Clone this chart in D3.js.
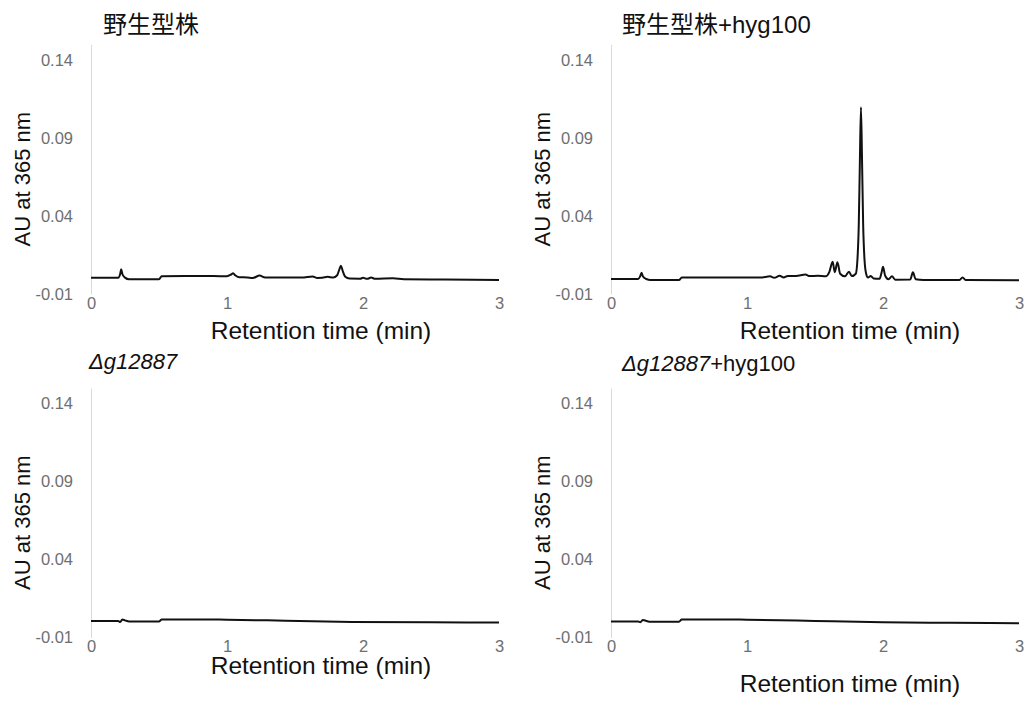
<!DOCTYPE html>
<html>
<head>
<meta charset="utf-8">
<script src="https://cdn.jsdelivr.net/npm/d3@7"></script>
<style>
  html, body { margin: 0; padding: 0; background: #fff; }
  svg { display: block; }
  text { font-family: "Liberation Sans", "Noto Sans CJK JP", sans-serif; }
</style>
</head>
<body>
<svg id="chart" width="1027" height="701"></svg>
<script>
// Axis ticks shared by all four chromatograms
const xTicks = [0, 1, 2, 3];
const yTicks = [-0.01, 0.04, 0.09, 0.14];
const yTickLabels = ["-0.01", "0.04", "0.09", "0.14"];
const xTitle = "Retention time (min)";
const yTitle = "AU at 365 nm";

// Wild type (retention time in min, absorbance in AU)
const wtTime = [0, 0.20, 0.215, 0.222, 0.232, 0.25, 0.28, 0.35, 0.50, 0.52, 0.7, 0.9, 1.0, 1.03, 1.045, 1.06, 1.09, 1.15, 1.19, 1.24, 1.28, 1.4, 1.55, 1.63, 1.66, 1.70, 1.74, 1.78, 1.81, 1.825, 1.838, 1.85, 1.87, 1.9, 1.98, 2.0, 2.03, 2.06, 2.09, 2.22, 2.3, 2.6, 3.0];
const wtAU   = [0.0004, 0.0004, 0.0030, 0.0058, 0.0025, 0.0005, -0.0006, -0.0006, -0.0006, 0.0014, 0.0015, 0.0015, 0.0014, 0.0025, 0.0033, 0.0020, 0.0008, 0.0006, 0.0003, 0.0018, 0.0006, 0.0005, 0.0005, 0.0012, 0.0003, 0.0004, 0.0010, 0.0005, 0.0020, 0.0055, 0.0081, 0.0050, 0.0010, -0.0001, -0.0002, 0.0004, -0.0003, 0.0005, -0.0003, 0.0001, -0.0005, -0.0007, -0.0010];

// Wild type + hyg100
const wtHygTime = [0, 0.20, 0.215, 0.225, 0.235, 0.26, 0.29, 0.50, 0.52, 0.8, 1.1, 1.17, 1.20, 1.24, 1.27, 1.30, 1.36, 1.43, 1.46, 1.52, 1.58, 1.605, 1.63, 1.645, 1.665, 1.685, 1.72, 1.75, 1.77, 1.80, 1.812, 1.822, 1.830, 1.838, 1.846, 1.854, 1.864, 1.876, 1.89, 1.91, 1.93, 1.975, 1.99, 2.0, 2.015, 2.04, 2.066, 2.09, 2.2, 2.22, 2.24, 2.3, 2.56, 2.585, 2.61, 3.0];
const wtHygAU   = [-0.0004, -0.0004, 0.0015, 0.0037, 0.0012, -0.0004, -0.0010, -0.0010, 0.0005, 0.0006, 0.0006, 0.0013, 0.0004, 0.0017, 0.0006, 0.0016, 0.0016, 0.0025, 0.0015, 0.0017, 0.0013, 0.0040, 0.0107, 0.0040, 0.0103, 0.0030, 0.0013, 0.0043, 0.0015, 0.0030, 0.0120, 0.0350, 0.0750, 0.1097, 0.0750, 0.0350, 0.0120, 0.0030, 0.0005, 0.0015, 0.0000, -0.0002, 0.0040, 0.0075, 0.0020, -0.0005, 0.0013, -0.0008, -0.0007, 0.0039, -0.0005, -0.0010, -0.0011, 0.0005, -0.0011, -0.0012];

// Δg12887
const koTime = [0, 0.20, 0.215, 0.23, 0.25, 0.28, 0.50, 0.52, 0.8, 1.0, 1.43, 1.92, 2.5, 3.0];
const koAU   = [0.0005, 0.0005, 0.0000, 0.0015, 0.0010, 0.0003, 0.0003, 0.0015, 0.0016, 0.0014, 0.0008, 0.0000, -0.0003, -0.0004];

// Δg12887 + hyg100
const koHygTime = [0, 0.20, 0.215, 0.235, 0.26, 0.29, 0.50, 0.52, 0.8, 1.0, 1.5, 2.0, 2.5, 3.0];
const koHygAU   = [0.0002, 0.0002, -0.0002, 0.0012, 0.0006, 0.0001, 0.0001, 0.0015, 0.0016, 0.0014, 0.0006, -0.0002, -0.0006, -0.0008];

// Panel titles: [text, italic] segments
const titleWT     = [["野生型株", false]];
const titleWTHyg  = [["野生型株+hyg100", false]];
const titleKO     = [["Δg12887", true]];
const titleKOHyg  = [["Δg12887", true], ["+hyg100", false]];

const svg = d3.select("#chart");

const panels = [
  { time: wtTime,    au: wtAU,    title: titleWT,    left: 91,  bottom: 294,   titleX: 103, titleY: 33,  titleSize: 24, xTitleX: 321, xTitleY: 339, yTitleX: 30 },
  { time: wtHygTime, au: wtHygAU, title: titleWTHyg, left: 611, bottom: 294,   titleX: 622, titleY: 33,  titleSize: 24, xTitleX: 850, xTitleY: 339, yTitleX: 550 },
  { time: koTime,    au: koAU,    title: titleKO,    left: 91,  bottom: 637.5, titleX: 89,  titleY: 369, titleSize: 22, xTitleX: 321, xTitleY: 674, yTitleX: 30 },
  { time: koHygTime, au: koHygAU, title: titleKOHyg, left: 611, bottom: 637.5, titleX: 622, titleY: 371, titleSize: 22, xTitleX: 850, xTitleY: 692, yTitleX: 550 }
];

const pxPerMin = 136;
const pxPerAU = 1560;

panels.forEach(p => {
  const x = d3.scaleLinear().domain([0, 3]).range([p.left, p.left + 3 * pxPerMin]);
  const y = d3.scaleLinear().domain([-0.01, 0.15]).range([p.bottom, p.bottom - 0.16 * pxPerAU]);
  const g = svg.append("g");

  // Y axis: light grey spine, labels only
  const yAxis = g.append("g")
    .attr("transform", `translate(${p.left},0)`)
    .call(d3.axisLeft(y).tickValues(yTicks).tickFormat((d, i) => yTickLabels[i]).tickSize(0).tickSizeOuter(0).tickPadding(18));
  yAxis.select(".domain").attr("stroke", "#d9d9d9").attr("stroke-width", 1);
  yAxis.selectAll("text")
    .attr("fill", "#6f6f6f")
    .style("font-size", "16.5px")
    .style("font-family", "\"Liberation Sans\", sans-serif");

  // X axis: labels only, no spine
  const xAxis = g.append("g")
    .attr("transform", `translate(0,${p.bottom})`)
    .call(d3.axisBottom(x).tickValues(xTicks).tickFormat(d3.format("d")).tickSize(0).tickSizeOuter(0));
  xAxis.select(".domain").remove();
  xAxis.selectAll("text")
    .attr("y", 9)
    .attr("dy", "0.35em")
    .attr("fill", "#6f6f6f")
    .style("font-size", "16.5px")
    .style("font-family", "\"Liberation Sans\", sans-serif");

  // Chromatogram trace
  const pts = p.time.map((t, i) => [t, p.au[i]]);
  g.append("path")
    .datum(pts)
    .attr("fill", "none")
    .attr("stroke", "#111")
    .attr("stroke-width", 2)
    .attr("stroke-linejoin", "round")
    .attr("d", d3.line().x(d => x(d[0])).y(d => y(d[1])).curve(d3.curveMonotoneX));

  // Panel title
  const title = g.append("text")
    .attr("x", p.titleX)
    .attr("y", p.titleY)
    .attr("fill", "#111")
    .style("font-size", p.titleSize + "px");
  p.title.forEach(([s, it]) => {
    title.append("tspan").text(s).style("font-style", it ? "italic" : "normal");
  });

  // Axis titles
  g.append("text")
    .attr("x", p.xTitleX)
    .attr("y", p.xTitleY)
    .attr("text-anchor", "middle")
    .attr("fill", "#111")
    .style("font-size", "24.5px")
    .text(xTitle);

  g.append("text")
    .attr("transform", `translate(${p.yTitleX},${(y(-0.01) + y(0.15)) / 2 + 10}) rotate(-90)`)
    .attr("text-anchor", "middle")
    .attr("fill", "#111")
    .style("font-size", "22px")
    .text(yTitle);
});
</script>
</body>
</html>
